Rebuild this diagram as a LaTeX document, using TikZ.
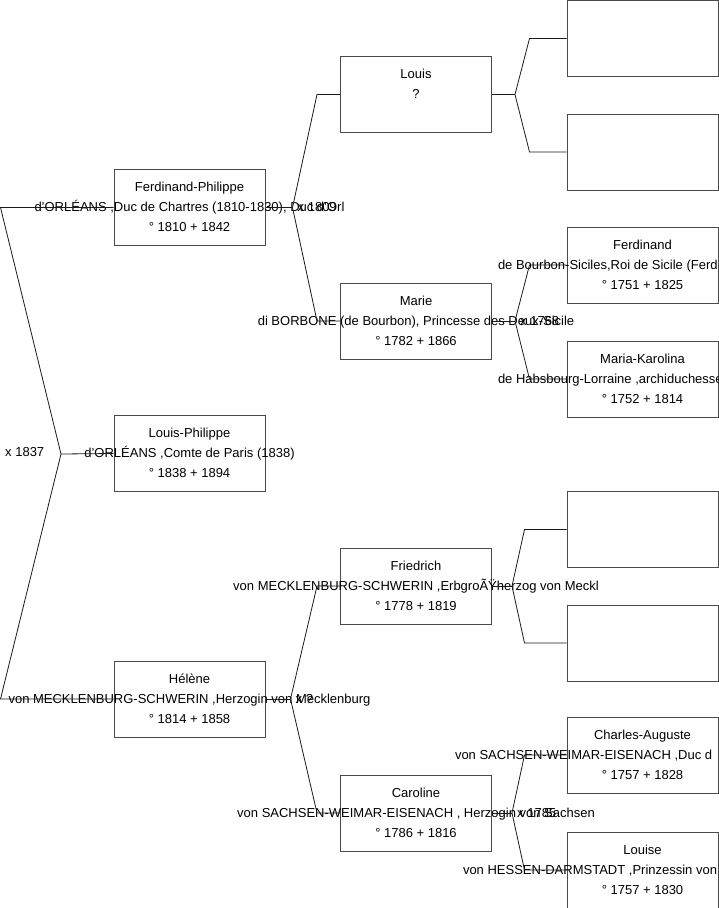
\documentclass[tikz,border=0pt]{standalone}
\usepackage{fontspec}
\setmainfont{Liberation Sans}
\usepackage{tikz}
\usetikzlibrary{calc}
\definecolor{framegray}{HTML}{4A4A4A}
\definecolor{linegray}{HTML}{1A1A1A}
\newcommand{\pline}[1]{\makebox[0pt]{\strut #1}}
\newcommand{\ptrunc}[2]{\makebox[0pt]{\makebox[#1][l]{\strut #2}}}
\tikzset{
  personbox/.style={
    rectangle, draw=#1, line width=1pt,
    minimum width=151pt, minimum height=76pt,
    font=\fontsize{13}{20}\selectfont, align=center, inner sep=0pt
  },
  personbox/.default=framegray,
  forkedge/.style={
    line width=0.8pt, color=#1
  },
  forkedge/.default=linegray,
  marriagelabel/.style={
    font=\fontsize{13}{20}\selectfont, anchor=west, inner sep=0pt
  },
}

\begin{document}
\begin{tikzpicture}[x=1pt, y=-1pt]
  \useasboundingbox (0,0) rectangle (719,908);
  % generation 1
  \node[personbox] (fp) at (189.5,207.5) {\pline{Ferdinand-Philippe}\\
    \pline{d'ORLÉANS ,Duc de Chartres (1810-1830), Duc d'Orl}\\\pline{° 1810 + 1842}};
  \node[personbox] (lp) at (189.5,453.5) {\pline{Louis-Philippe}\\
    \pline{d'ORLÉANS ,Comte de Paris (1838)}\\\pline{° 1838 + 1894}};
  \node[personbox] (he) at (189.5,699) {\pline{Hélène}\\
    \pline{von MECKLENBURG-SCHWERIN ,Herzogin von Mecklenburg}\\\pline{° 1814 + 1858}};
  % generation 2
  \node[personbox] (lo) at (416,94.5) {\pline{Louis}\\\pline{?}\\\pline{}};
  \node[personbox] (ma) at (416,321) {\pline{Marie}\\
    \pline{di BORBONE (de Bourbon), Princesse des Deux-Sicile}\\\pline{° 1782 + 1866}};
  \node[personbox] (fr) at (416,586) {\pline{Friedrich}\\
    \pline{von MECKLENBURG-SCHWERIN ,ErbgroÃŸherzog von Meckl}\\\pline{° 1778 + 1819}};
  \node[personbox] (ca) at (416,813) {\pline{Caroline}\\
    \pline{von SACHSEN-WEIMAR-EISENACH , Herzogin von Sachsen}\\\pline{° 1786 + 1816}};
  % generation 3
  \node[personbox] (lofa) at (642.5,38.5) {};
  \node[personbox] (lomo) at (642.5,152) {};
  \node[personbox] (fe) at (642.5,265) {\pline{Ferdinand}\\
    \ptrunc{289pt}{de Bourbon-Siciles,Roi de Sicile (Ferd}\\\pline{° 1751 + 1825}};
  \node[personbox] (mk) at (642.5,379) {\pline{Maria-Karolina}\\
    \ptrunc{289pt}{de Habsbourg-Lorraine ,archiduchesse}\\\pline{° 1752 + 1814}};
  \node[personbox] (frfa) at (642.5,529.5) {};
  \node[personbox] (frmo) at (642.5,643) {};
  \node[personbox] (chau) at (642.5,755) {\pline{Charles-Auguste}\\
    \ptrunc{375pt}{von SACHSEN-WEIMAR-EISENACH ,Duc d}\\\pline{° 1757 + 1828}};
  \node[personbox] (lu) at (642.5,870) {\pline{Louise}\\
    \ptrunc{359pt}{von HESSEN-DARMSTADT ,Prinzessin von}\\\pline{° 1757 + 1830}};

  % forks
  \coordinate (vroot) at (61,454);
  \draw[forkedge] (fp.west) -- ++(-113,0) -- (vroot) -- ($(he.west)+(-113,0)$) -- (he.west);
  \draw[forkedge] (vroot) -- (lp.west);
  \foreach \p/\f/\m/\a/\b in {fp/lo/ma/27/23, he/fr/ca/25/23, lo/lofa/lomo/23/37,
      ma/fe/mk/23/37, fr/frfa/frmo/20/42, ca/chau/lu/20/42} {
    \coordinate (v\p) at ($(\p.east)+(\a,0)$);
    \draw[forkedge] (\p.east) -- (v\p);
    \draw[forkedge] (\f.west) -- ++(-\b,0) -- (v\p) -- ($(\m.west)+(-\b,0)$) -- (\m.west);
  }

  % marriages
  \node[marriagelabel] (m1837) at (5,452) {x 1837};
  \node[marriagelabel] (m1809) at ($(vfp)+(5,0)$) {x 1809};
  \node[marriagelabel] (mhe) at ($(vhe)+(5,0)$) {x ?};
  \node[marriagelabel] (m1768) at ($(vma)+(5,0)$) {x 1768};
  \node[marriagelabel] (m1785) at ($(vca)+(5,0)$) {x 1785};
\end{tikzpicture}
\end{document}
